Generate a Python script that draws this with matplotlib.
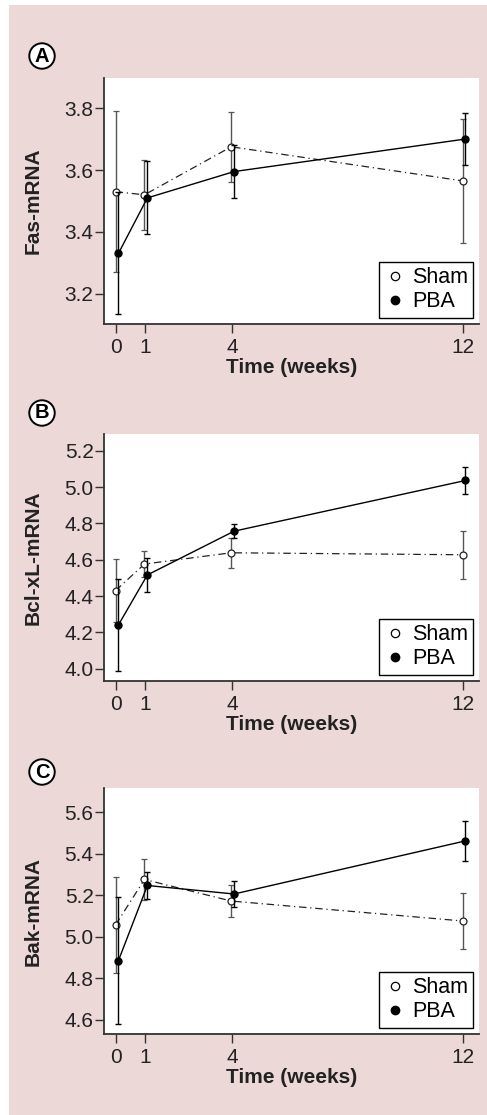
import numpy as np
import matplotlib; matplotlib.use("Agg")
import matplotlib.pyplot as plt
from matplotlib.patches import Rectangle
from matplotlib.lines import Line2D

weeks = np.array([0, 1, 4, 12])

# panel A: Fas-mRNA
fas_sham = [3.53, 3.52, 3.675, 3.565]
fas_sham_err = [0.26, 0.113, 0.113, 0.20]
fas_pba = [3.331, 3.51, 3.595, 3.70]
fas_pba_err = [0.197, 0.118, 0.086, 0.085]

# panel B: Bcl-xL-mRNA
bcl_sham = [4.43, 4.576, 4.638, 4.627]
bcl_sham_err = [0.174, 0.07, 0.083, 0.133]
bcl_pba = [4.241, 4.516, 4.757, 5.036]
bcl_pba_err = [0.252, 0.092, 0.04, 0.073]

# panel C: Bak-mRNA
bak_sham = [5.057, 5.276, 5.172, 5.076]
bak_sham_err = [0.23, 0.10, 0.077, 0.136]
bak_pba = [4.885, 5.247, 5.206, 5.462]
bak_pba_err = [0.306, 0.063, 0.061, 0.097]

panels = [
    ("A", "Fas-mRNA", fas_sham, fas_sham_err, fas_pba, fas_pba_err,
     (3.103, 3.897), [3.2, 3.4, 3.6, 3.8]),
    ("B", "Bcl-xL-mRNA", bcl_sham, bcl_sham_err, bcl_pba, bcl_pba_err,
     (3.932, 5.292), [4.0, 4.2, 4.4, 4.6, 4.8, 5.0, 5.2]),
    ("C", "Bak-mRNA", bak_sham, bak_sham_err, bak_pba, bak_pba_err,
     (4.531, 5.717), [4.6, 4.8, 5.0, 5.2, 5.4, 5.6]),
]

plt.rcParams.update({"font.family": ["Liberation Sans", "DejaVu Sans"]})
W, H = 487, 1115
fig = plt.figure(figsize=(W / 100, H / 100), dpi=100, facecolor="white")
fig.add_artist(Rectangle((9 / W, 0), 1 - 9 / W, 1 - 5 / H, transform=fig.transFigure,
                         facecolor="#ebd8d7", edgecolor="none", zorder=-10))

# axes boxes in pixels (top, bottom) and label circle centres
boxes = [(78, 324), (434, 681), (788, 1034)]
circ_y = [56, 413, 772]

for (tag, ylab, sham, sham_e, pba, pba_e, ylim, yt), (top, bot), cy in zip(panels, boxes, circ_y):
    ax = fig.add_axes([104 / W, 1 - bot / H, 375 / W, (bot - top) / H])
    ax.set_facecolor("white")
    ax.errorbar(weeks - 0.03, sham, yerr=sham_e, fmt="o", ls=(0, (6, 3, 1, 3)), color="#222222",
                mfc="white", mec="#222222", ms=5, mew=0.9, lw=0.9, ecolor="#555555",
                elinewidth=1.0, capsize=2.5, capthick=1.0, zorder=3)
    ax.errorbar(weeks + 0.07, pba, yerr=pba_e, fmt="o", ls="-", color="black",
                mfc="black", mec="black", ms=5, lw=1.0, ecolor="black",
                elinewidth=1.0, capsize=2.5, capthick=1.0, zorder=4)
    ax.set_xlim(-0.43, 12.54)
    ax.set_ylim(*ylim)
    ax.set_xticks(weeks)
    ax.set_yticks(yt)
    ax.set_yticklabels([f"{v:.1f}" for v in yt])
    for s in ("top", "right"):
        ax.spines[s].set_visible(False)
    for s in ("left", "bottom"):
        ax.spines[s].set_linewidth(1.3)
        ax.spines[s].set_color("#333333")
    ax.tick_params(direction="out", length=6.5, width=1.0, color="#333333",
                   labelsize=15, labelcolor="#222222")
    ax.tick_params(axis="x", pad=3.5)
    ax.tick_params(axis="y", pad=1)
    ax.set_ylabel(ylab, fontsize=15, fontweight="bold", color="#222222")
    ax.yaxis.set_label_coords(-0.165, 0.5)
    ax.set_xlabel("Time (weeks)", fontsize=15, fontweight="bold", color="#222222", labelpad=1)
    handles = [Line2D([], [], ls="none", marker="o", ms=6, mfc="white", mec="black", mew=0.9),
               Line2D([], [], ls="none", marker="o", ms=6, mfc="black", mec="black")]
    leg = ax.legend(handles, ["Sham", "PBA"], loc="lower right", bbox_to_anchor=(0.985, 0.025),
                    borderaxespad=0, fancybox=False, edgecolor="black", fontsize=15.5,
                    handletextpad=0.3, handlelength=1.0, borderpad=0.25, labelspacing=0.15,
                    framealpha=1)
    leg.get_frame().set_linewidth(1.0)
    fig.text(42 / W, 1 - cy / H, tag, fontsize=14.5, fontweight="bold", ha="center", va="center",
             bbox=dict(boxstyle="circle,pad=0.16", facecolor="white", edgecolor="black", lw=1.4))

fig.savefig("out.png", dpi=100, facecolor="white")
